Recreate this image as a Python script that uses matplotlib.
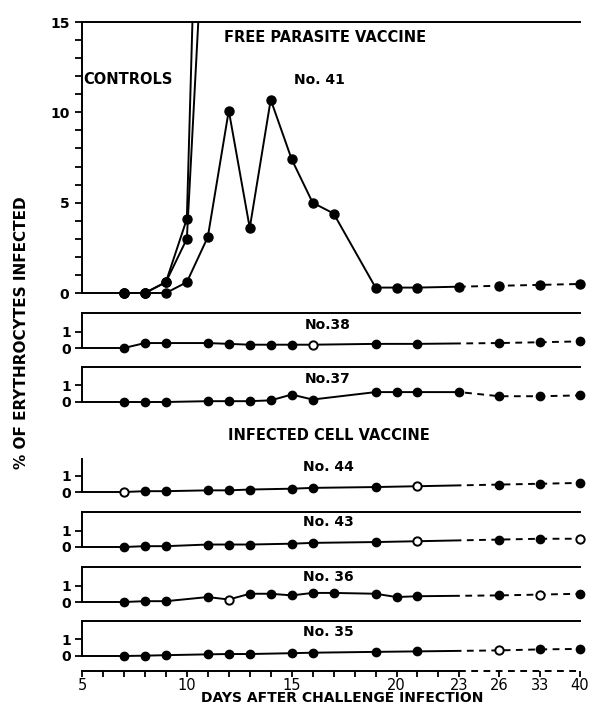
import numpy as np
import matplotlib
matplotlib.use("Agg")
import matplotlib.pyplot as plt
from matplotlib.patches import Rectangle
import matplotlib.transforms as mtransforms

# ---------------- data ----------------
day_breaks = [5, 23, 26, 33, 40]          # day values where the axis changes scale
pos_breaks = [5, 23, 24.9, 26.85, 28.75]  # corresponding positions along the axis

x_major_ticks = [5, 10, 15, 20, 23, 26, 33, 40]
x_minor_ticks = list(range(6, 23))

control_days = [7, 8, 9, 10, 11]
control_a = [0, 0, 0.6, 4.1, 45]
control_b = [0, 0, 0.6, 3.0, 25]

no41_days = [7, 8, 9, 10, 11, 12, 13, 14, 15, 16, 17, 19, 20, 21, 23, 26, 33, 40]
no41_vals = [0, 0, 0, 0.6, 3.1, 10.1, 3.6, 10.7, 7.4, 5.0, 4.4, 0.3, 0.3, 0.3, 0.35, 0.4, 0.45, 0.5]

no38_days = [7, 8, 9, 11, 12, 13, 14, 15, 16, 19, 21, 26, 33, 40]
no38_vals = [0, 0.3, 0.3, 0.3, 0.25, 0.2, 0.2, 0.2, 0.2, 0.25, 0.25, 0.3, 0.35, 0.4]
no38_open = [16]

no37_days = [7, 8, 9, 11, 12, 13, 14, 15, 16, 19, 20, 21, 23, 26, 33, 40]
no37_vals = [0, 0, 0, 0.05, 0.05, 0.05, 0.1, 0.45, 0.15, 0.6, 0.6, 0.6, 0.6, 0.35, 0.35, 0.4]
no37_open = []

no44_days = [7, 8, 9, 11, 12, 13, 15, 16, 19, 21, 26, 33, 40]
no44_vals = [0, 0.05, 0.05, 0.1, 0.1, 0.15, 0.2, 0.25, 0.3, 0.35, 0.45, 0.5, 0.55]
no44_open = [7, 21]

no43_days = [7, 8, 9, 11, 12, 13, 15, 16, 19, 21, 26, 33, 40]
no43_vals = [0, 0.05, 0.05, 0.15, 0.15, 0.15, 0.2, 0.25, 0.3, 0.35, 0.45, 0.5, 0.5]
no43_open = [21, 40]

no36_days = [7, 8, 9, 11, 12, 13, 14, 15, 16, 17, 19, 20, 21, 26, 33, 40]
no36_vals = [0, 0.05, 0.05, 0.3, 0.15, 0.5, 0.5, 0.4, 0.55, 0.55, 0.5, 0.3, 0.35, 0.4, 0.45, 0.5]
no36_open = [12, 33]

no35_days = [7, 8, 9, 11, 12, 13, 15, 16, 19, 21, 26, 33, 40]
no35_vals = [0, 0.02, 0.05, 0.1, 0.12, 0.12, 0.17, 0.2, 0.25, 0.28, 0.34, 0.4, 0.43]
no35_open = [26]

# ---------------- layout ----------------
W, H = 597, 706
L_PX, R_PX = 82, 580
U = 16.5  # pixels per unit in small panels

plt.rcParams['font.family'] = ['DejaVu Sans']
plt.rcParams['font.weight'] = 'bold'
fig = plt.figure(figsize=(W / 100, H / 100), dpi=100)
fig.patch.set_facecolor('white')


def rect(top_px, bottom_px, left_px=L_PX, right_px=R_PX):
    return [left_px / W, 1 - bottom_px / H, (right_px - left_px) / W, (bottom_px - top_px) / H]


def fx(x):
    return x / W


def fy(y):
    return 1 - y / H


def fwd(d):
    return np.interp(d, day_breaks, pos_breaks)


def inv(p):
    return np.interp(p, pos_breaks, day_breaks)


LW = 1.4


def setup_x(ax):
    ax.set_xscale('function', functions=(fwd, inv))
    ax.set_xlim(day_breaks[0], day_breaks[-1])


def draw_series(ax, days, vals, open_days=(), ms=6, clip_markers=False):
    trans = mtransforms.blended_transform_factory(ax.transData, ax.transAxes)
    solid = Rectangle((day_breaks[0], -1), day_breaks[1] - day_breaks[0], 2, transform=trans)
    dashed = Rectangle((day_breaks[1], -1), day_breaks[-1] - day_breaks[1], 2, transform=trans)
    l1, = ax.plot(days, vals, color='black', lw=LW, solid_capstyle='butt')
    l1.set_clip_path(solid)
    if max(days) > day_breaks[1]:
        l2, = ax.plot(days, vals, color='black', lw=LW, ls=(0, (3.5, 2.8)))
        l2.set_clip_path(dashed)
    d = np.array(days)
    v = np.array(vals)
    is_open = np.isin(d, open_days)
    ax.plot(d[~is_open], v[~is_open], 'o', color='black', ms=ms, clip_on=clip_markers, zorder=3)
    if is_open.any():
        ax.plot(d[is_open], v[is_open], 'o', mfc='white', mec='black', mew=1.4, ms=ms,
                clip_on=clip_markers, zorder=3)


def style_axes(ax, ytop, first_day, top_spine=True, left_top=None):
    ax.spines['right'].set_visible(False)
    ax.spines['top'].set_visible(top_spine)
    for s in ['left', 'top', 'bottom']:
        ax.spines[s].set_linewidth(1.4)
    ax.spines['left'].set_bounds(0, ytop if left_top is None else left_top)
    ax.spines['bottom'].set_bounds(day_breaks[0], first_day)
    ax.spines['bottom'].set_position(('data', 0))
    ax.set_xticks([])
    ax.set_xticks([], minor=True)
    ax.tick_params(axis='y', which='both', direction='out', length=5, width=1.3,
                   labelsize=10, pad=3)
    ax.set_facecolor('none')


# ---- top panel ----
ax0 = fig.add_axes(rect(22, 293 + 0.6 * 18.07))
setup_x(ax0)
ax0.set_ylim(-0.6, 15)
draw_series(ax0, control_days, control_a, ms=6.5, clip_markers=True)
draw_series(ax0, control_days, control_b, ms=6.5, clip_markers=True)
draw_series(ax0, no41_days, no41_vals, ms=6.5)
style_axes(ax0, 15, no41_days[0])
ax0.set_yticks([0, 5, 10, 15])
ax0.set_yticks(np.arange(0, 16, 1), minor=True)
ax0.tick_params(axis='y', which='major', pad=4)

fig.text(fx(325), fy(38), 'FREE PARASITE VACCINE', ha='center', va='center', fontsize=10.5)
fig.text(fx(128), fy(79), 'CONTROLS', ha='center', va='center', fontsize=10.5)
fig.text(fx(319), fy(80), 'No. 41', ha='center', va='center', fontsize=10)
fig.text(fx(329), fy(435), 'INFECTED CELL VACCINE', ha='center', va='center', fontsize=10.5)

# ---- small panels ----
panels = [
    (348, no38_days, no38_vals, no38_open, 'No.38', 325, True),
    (402, no37_days, no37_vals, no37_open, 'No.37', 379, True),
    (492, no44_days, no44_vals, no44_open, 'No. 44', 467, False),
    (547, no43_days, no43_vals, no43_open, 'No. 43', 522, True),
    (602, no36_days, no36_vals, no36_open, 'No. 36', 577, True),
    (656, no35_days, no35_vals, no35_open, 'No. 35', 632, True),
]
YTOP = 2.15
for y0, days, vals, opn, lab, ly, tsp in panels:
    ax = fig.add_axes(rect(y0 - YTOP * U, y0 + 0.45 * U))
    setup_x(ax)
    ax.set_ylim(-0.45, YTOP)
    draw_series(ax, days, vals, opn, ms=6)
    style_axes(ax, YTOP, days[0], top_spine=tsp, left_top=None if tsp else 2.0)
    ax.set_yticks([0, 1])
    fig.text(fx(328), fy(ly), lab, ha='center', va='center', fontsize=10)

# ---- x axis ----
axx = fig.add_axes(rect(661, 671))
setup_x(axx)
axx.set_ylim(0, 1)
for s in ['left', 'right', 'top']:
    axx.spines[s].set_visible(False)
axx.spines['bottom'].set_bounds(day_breaks[0], day_breaks[1])
axx.spines['bottom'].set_linewidth(1.4)
transx = mtransforms.blended_transform_factory(axx.transData, axx.transAxes)
axx.plot([day_breaks[1], day_breaks[-1]], [0, 0], color='black', lw=LW, ls=(0, (3.5, 2.8)),
         transform=transx, clip_on=False)
axx.set_yticks([])
axx.set_xticks(x_major_ticks)
axx.set_xticklabels([str(t) for t in x_major_ticks], fontweight='normal')
axx.set_xticks(x_minor_ticks, minor=True)
axx.tick_params(axis='x', which='both', direction='out', length=4, width=1.3,
                labelsize=10.5, pad=1)
axx.set_facecolor('none')

fig.text(fx(342), fy(702.5), 'DAYS AFTER CHALLENGE INFECTION', ha='center', va='baseline',
         fontsize=10)
fig.text(fx(22), fy(333), '% OF ERYTHROCYTES INFECTED', ha='center', va='center',
         rotation=90, fontsize=11)

fig.savefig('out.png', dpi=100, facecolor='white')
